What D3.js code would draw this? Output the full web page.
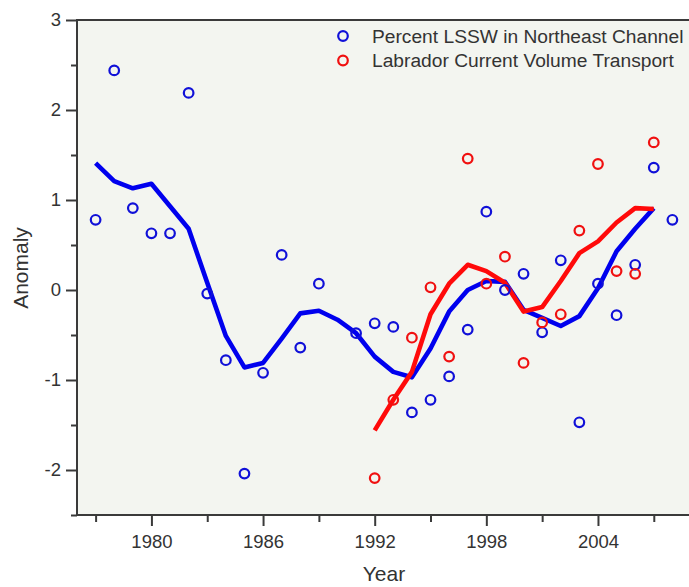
<!DOCTYPE html>
<html>
<head>
<meta charset="utf-8">
<script src="https://cdn.jsdelivr.net/npm/d3@7"></script>
<style>
  html, body { margin: 0; padding: 0; background: #ffffff; }
  svg { display: block; font-family: "Liberation Sans", Arial, sans-serif; }
</style>
</head>
<body>
<svg id="chart" width="689" height="587"></svg>
<script>
// Percent LSSW in Northeast Channel (annual anomalies)
const lsswYears  = [1977, 1978, 1979, 1980, 1981, 1982, 1983, 1984, 1985, 1986, 1987, 1988, 1989,
                    1991, 1992, 1993, 1994, 1995, 1996, 1997, 1998, 1999, 2000, 2001, 2002, 2003,
                    2004, 2005, 2006, 2007, 2008];
const lsswValues = [0.78, 2.44, 0.91, 0.63, 0.63, 2.19, -0.04, -0.78, -2.04, -0.92, 0.39, -0.64, 0.07,
                    -0.48, -0.37, -0.41, -1.36, -1.22, -0.96, -0.44, 0.87, 0.0, 0.18, -0.47, 0.33, -1.47,
                    0.07, -0.28, 0.28, 1.36, 0.78];

// Smoothed LSSW anomaly
const lsswSmoothYears  = [1977, 1978, 1979, 1980, 1981, 1982, 1983, 1984, 1985, 1986, 1987, 1988, 1989, 1990,
                          1991, 1992, 1993, 1994, 1995, 1996, 1997, 1998, 1999, 2000, 2001, 2002, 2003,
                          2004, 2005, 2006, 2007];
const lsswSmoothValues = [1.41, 1.21, 1.13, 1.18, 0.93, 0.68, 0.08, -0.51, -0.86, -0.81, -0.54, -0.26, -0.23, -0.33,
                          -0.48, -0.74, -0.91, -0.97, -0.65, -0.24, 0.0, 0.10, 0.09, -0.22, -0.31, -0.40, -0.29,
                          0.02, 0.43, 0.68, 0.91];

// Labrador Current volume transport (annual anomalies)
const lcYears  = [1992, 1993, 1994, 1995, 1996, 1997, 1998, 1999, 2000, 2001, 2002, 2003, 2004, 2005, 2006, 2007];
const lcValues = [-2.09, -1.22, -0.53, 0.03, -0.74, 1.46, 0.07, 0.37, -0.81, -0.36, -0.27, 0.66, 1.40, 0.21, 0.18, 1.64];

// Smoothed transport anomaly
const lcSmoothYears  = [1992, 1993, 1994, 1995, 1996, 1997, 1998, 1999, 2000, 2001, 2002, 2003, 2004, 2005, 2006, 2007];
const lcSmoothValues = [-1.56, -1.22, -0.91, -0.27, 0.07, 0.28, 0.21, 0.08, -0.24, -0.19, 0.10, 0.41, 0.54, 0.75, 0.91, 0.90];

// Axis ticks
const xMajorTicks = [1980, 1986, 1992, 1998, 2004];
const xMinorTicks = [1977, 1983, 1989, 1995, 2001, 2007];
const yMajorTicks = [-2, -1, 0, 1, 2, 3];
const yMinorTicks = [-2.5, -1.5, -0.5, 0.5, 1.5, 2.5];

const legendLabels = ["Percent LSSW in Northeast Channel", "Labrador Current Volume Transport"];

const blue = "#1010d8";
const red = "#f01010";
const blueLine = "#0000ee";
const redLine = "#ff0a0a";
const axisColor = "#3a3a3a";
const textColor = "#333333";

const svg = d3.select("#chart");
const W = 689;
const plotLeft = 77, plotTop = 20, plotBottom = 515;

const x = d3.scaleLinear().domain([1976, 2009]).range([plotLeft, 691]);
const y = d3.scaleLinear().domain([-2.5, 3]).range([plotBottom, plotTop]);

// plot background
svg.append("rect")
  .attr("x", plotLeft).attr("y", plotTop)
  .attr("width", W - plotLeft).attr("height", plotBottom - plotTop)
  .attr("fill", "#f3f5f0");

// top frame line
svg.append("line")
  .attr("x1", plotLeft).attr("x2", W)
  .attr("y1", plotTop).attr("y2", plotTop)
  .attr("stroke", axisColor).attr("stroke-width", 2);

function styleAxis(g) {
  g.select(".domain").remove();
  g.selectAll(".tick line").attr("stroke", axisColor).attr("stroke-width", 2);
  g.selectAll(".tick text").attr("fill", textColor).attr("font-size", 18.5)
    .attr("font-family", "'Liberation Sans', Arial, sans-serif");
}

// plain hyphen for negative labels
const tickLabel = d => String(d);

// y axis
svg.append("g").attr("transform", `translate(${plotLeft},0)`)
  .call(d3.axisLeft(y).tickValues(yMajorTicks).tickSize(11).tickPadding(5).tickFormat(tickLabel))
  .call(styleAxis);
svg.append("g").attr("transform", `translate(${plotLeft},0)`)
  .call(d3.axisLeft(y).tickValues(yMinorTicks).tickSize(6).tickFormat(""))
  .call(styleAxis);
svg.append("line")
  .attr("x1", plotLeft).attr("x2", plotLeft).attr("y1", plotTop - 1).attr("y2", plotBottom + 1)
  .attr("stroke", axisColor).attr("stroke-width", 2);

// x axis
svg.append("g").attr("transform", `translate(0,${plotBottom})`)
  .call(d3.axisBottom(x).tickValues(xMajorTicks).tickSize(11).tickPadding(9).tickFormat(tickLabel))
  .call(styleAxis);
svg.append("g").attr("transform", `translate(0,${plotBottom})`)
  .call(d3.axisBottom(x).tickValues(xMinorTicks).tickSize(7).tickFormat(""))
  .call(styleAxis);
svg.append("line")
  .attr("x1", plotLeft - 1).attr("x2", W).attr("y1", plotBottom).attr("y2", plotBottom)
  .attr("stroke", axisColor).attr("stroke-width", 2);

// axis titles
svg.append("text")
  .attr("x", 384).attr("y", 581)
  .attr("text-anchor", "middle")
  .attr("font-size", 21).attr("fill", textColor)
  .text("Year");
svg.append("text")
  .attr("transform", "translate(28,268) rotate(-90)")
  .attr("text-anchor", "middle")
  .attr("font-size", 21).attr("fill", textColor)
  .text("Anomaly");

const line = d3.line().x(d => x(d[0])).y(d => y(d[1]));

// smoothed curves
svg.append("path")
  .datum(d3.zip(lsswSmoothYears, lsswSmoothValues))
  .attr("d", line).attr("fill", "none")
  .attr("stroke", blueLine).attr("stroke-width", 4.6)
  .attr("stroke-linejoin", "round");
svg.append("path")
  .datum(d3.zip(lcSmoothYears, lcSmoothValues))
  .attr("d", line).attr("fill", "none")
  .attr("stroke", redLine).attr("stroke-width", 4.6)
  .attr("stroke-linejoin", "round");

// annual points
svg.append("g").selectAll("circle")
  .data(d3.zip(lsswYears, lsswValues))
  .join("circle")
  .attr("cx", d => x(d[0])).attr("cy", d => y(d[1])).attr("r", 4.8)
  .attr("fill", "none").attr("stroke", blue).attr("stroke-width", 2.2);
svg.append("g").selectAll("circle")
  .data(d3.zip(lcYears, lcValues))
  .join("circle")
  .attr("cx", d => x(d[0])).attr("cy", d => y(d[1])).attr("r", 4.8)
  .attr("fill", "none").attr("stroke", red).attr("stroke-width", 2.2);

// legend
const legend = svg.append("g");
[blue, red].forEach((c, i) => {
  const cy = 36 + i * 24.5;
  legend.append("circle")
    .attr("cx", 343).attr("cy", cy).attr("r", 4.8)
    .attr("fill", "none").attr("stroke", c).attr("stroke-width", 2.2);
  legend.append("text")
    .attr("x", 372).attr("y", cy + 6.8)
    .attr("font-size", 19.2).attr("fill", textColor)
    .text(legendLabels[i]);
});
</script>
</body>
</html>
